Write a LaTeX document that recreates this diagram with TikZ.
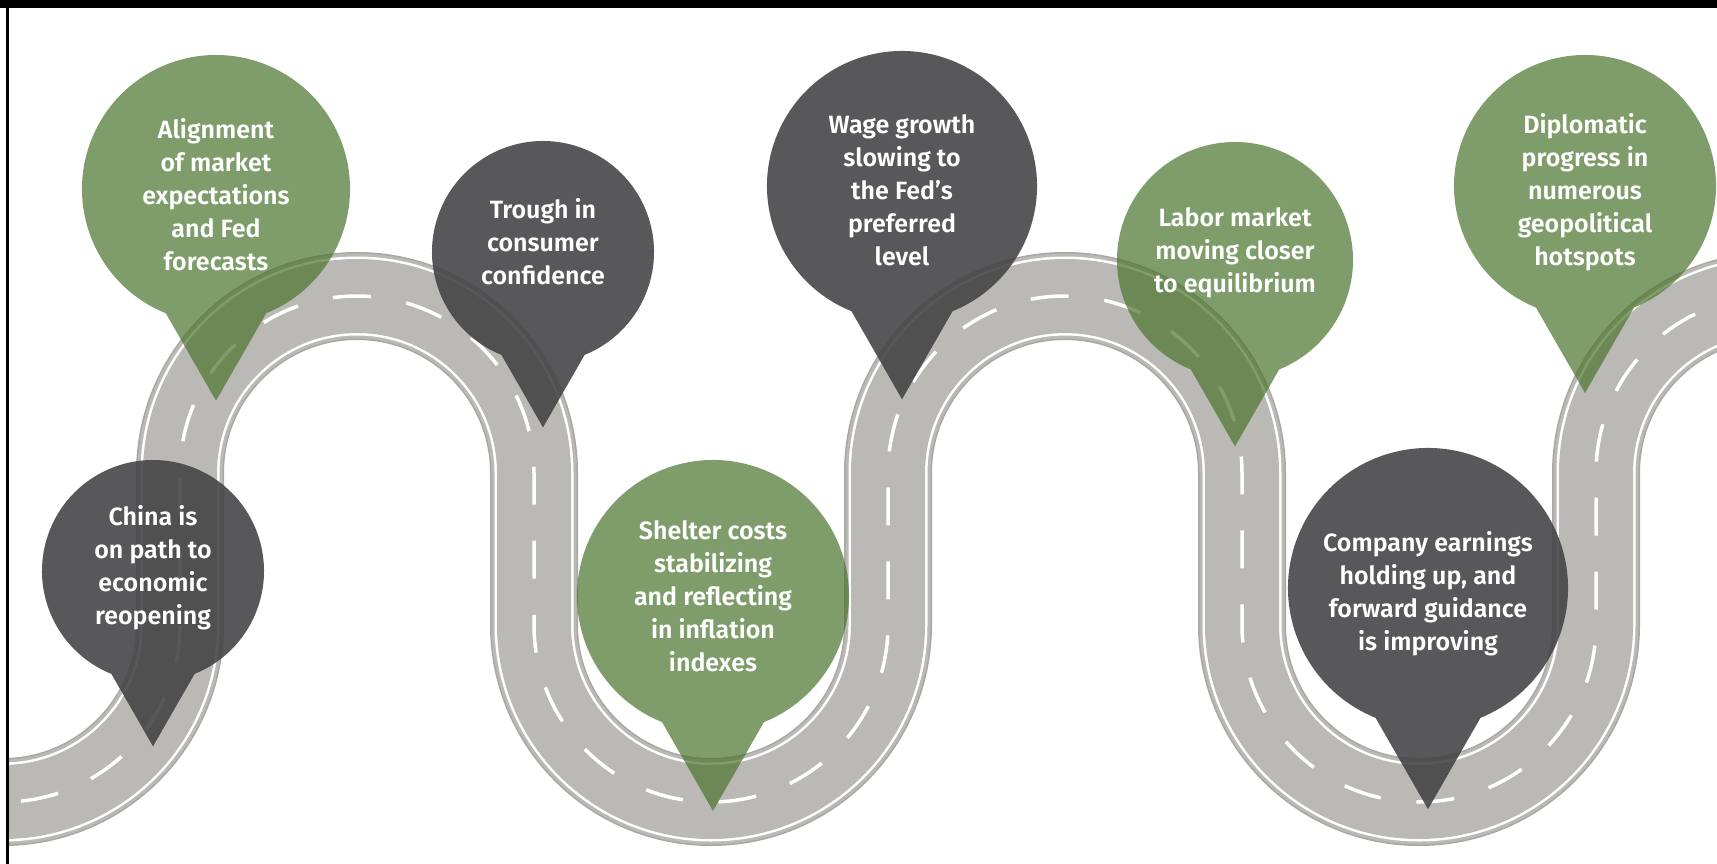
\documentclass[tikz,border=0pt]{standalone}
\usepackage{fontspec}
\newfontfamily\pinfont{Fira Sans SemiBold}
\definecolor{roadgray}{RGB}{186,185,181}
\definecolor{roadedge}{RGB}{168,167,163}
\definecolor{pingreen}{RGB}{76,117,46}
\definecolor{pindark}{RGB}{70,69,71}
\tikzset{
  x=1pt, y=-1pt,
  greenpin/.style={fill=pingreen, fill opacity=0.71},
  darkpin/.style={fill=pindark, fill opacity=0.9},
  pintext/.style={text=white, align=center, inner sep=0pt,
    font=\pinfont\fontsize{25}{33}\selectfont},
  centerdash/.style={draw=white, line width=3.5pt, dash pattern=on 38pt off 36pt}
}
\newcommand{\mypin}[4]{%
  \fill[#4] (#1,#2) ++(112:#3) arc[start angle=112,end angle=428,radius=#3]
    -- (#1,{#2+1.58*#3}) -- cycle;}
\begin{document}
\begin{tikzpicture}
\useasboundingbox (0,0) rectangle (1717,864);
\fill[white] (0,0) rectangle (1717,864);
\begin{scope}
\clip (8,8) rectangle (1717,864);
% road
\foreach \w/\c in {88/roadedge,85/roadgray,79/white,74/roadgray}{
  \draw[\c, line width=\w pt]
    (-174,625) arc[start angle=180,end angle=0,radius=177] -- (180,473)
    arc[start angle=180,end angle=360,radius=177] -- (534,625)
    arc[start angle=180,end angle=0,radius=177] -- (888,473)
    arc[start angle=180,end angle=360,radius=177] -- (1242,625)
    arc[start angle=180,end angle=0,radius=177] -- (1596,473)
    arc[start angle=180,end angle=360,radius=177];
}
\draw[centerdash]
    (-174,625) arc[start angle=180,end angle=0,radius=177] -- (180,473)
    arc[start angle=180,end angle=360,radius=177] -- (534,625)
    arc[start angle=180,end angle=0,radius=177] -- (888,473)
    arc[start angle=180,end angle=360,radius=177] -- (1242,625)
    arc[start angle=180,end angle=0,radius=177] -- (1596,473)
    arc[start angle=180,end angle=360,radius=177];
% pins
\mypin{216}{189}{134}{greenpin}
\mypin{153}{571}{111}{darkpin}
\mypin{543}{252}{111}{darkpin}
\mypin{902}{186}{135}{darkpin}
\mypin{713}{596}{136}{greenpin}
\mypin{1235}{260}{118}{greenpin}
\mypin{1585}{186}{131}{greenpin}
\mypin{1428}{588}{140}{darkpin}
\end{scope}
% texts
\node[pintext] (t1) at (216,195) {Alignment\\of market\\expectations\\and Fed\\forecasts};
\node[pintext] (t2) at (153,568) {China is\\on path to\\economic\\reopening};
\node[pintext] (t3) at (543,242) {Trough in\\consumer\\confidence};
\node[pintext] (t4) at (902,190) {Wage growth\\slowing to\\the Fed’s\\preferred\\level};
\node[pintext] (t5) at (713,596) {Shelter costs\\stabilizing\\and reflecting\\in inflation\\indexes};
\node[pintext] (t6) at (1235,253) {Labor market\\moving closer\\to equilibrium};
\node[pintext] (t7) at (1585,192) {Diplomatic\\progress in\\numerous\\geopolitical\\hotspots};
\node[pintext] (t8) at (1428,594) {Company earnings\\holding up, and\\forward guidance\\is improving};
% frame
\fill[black] (0,0) rectangle (1717,8);
\fill[black] (6,0) rectangle (8.5,864);
\end{tikzpicture}
\end{document}
